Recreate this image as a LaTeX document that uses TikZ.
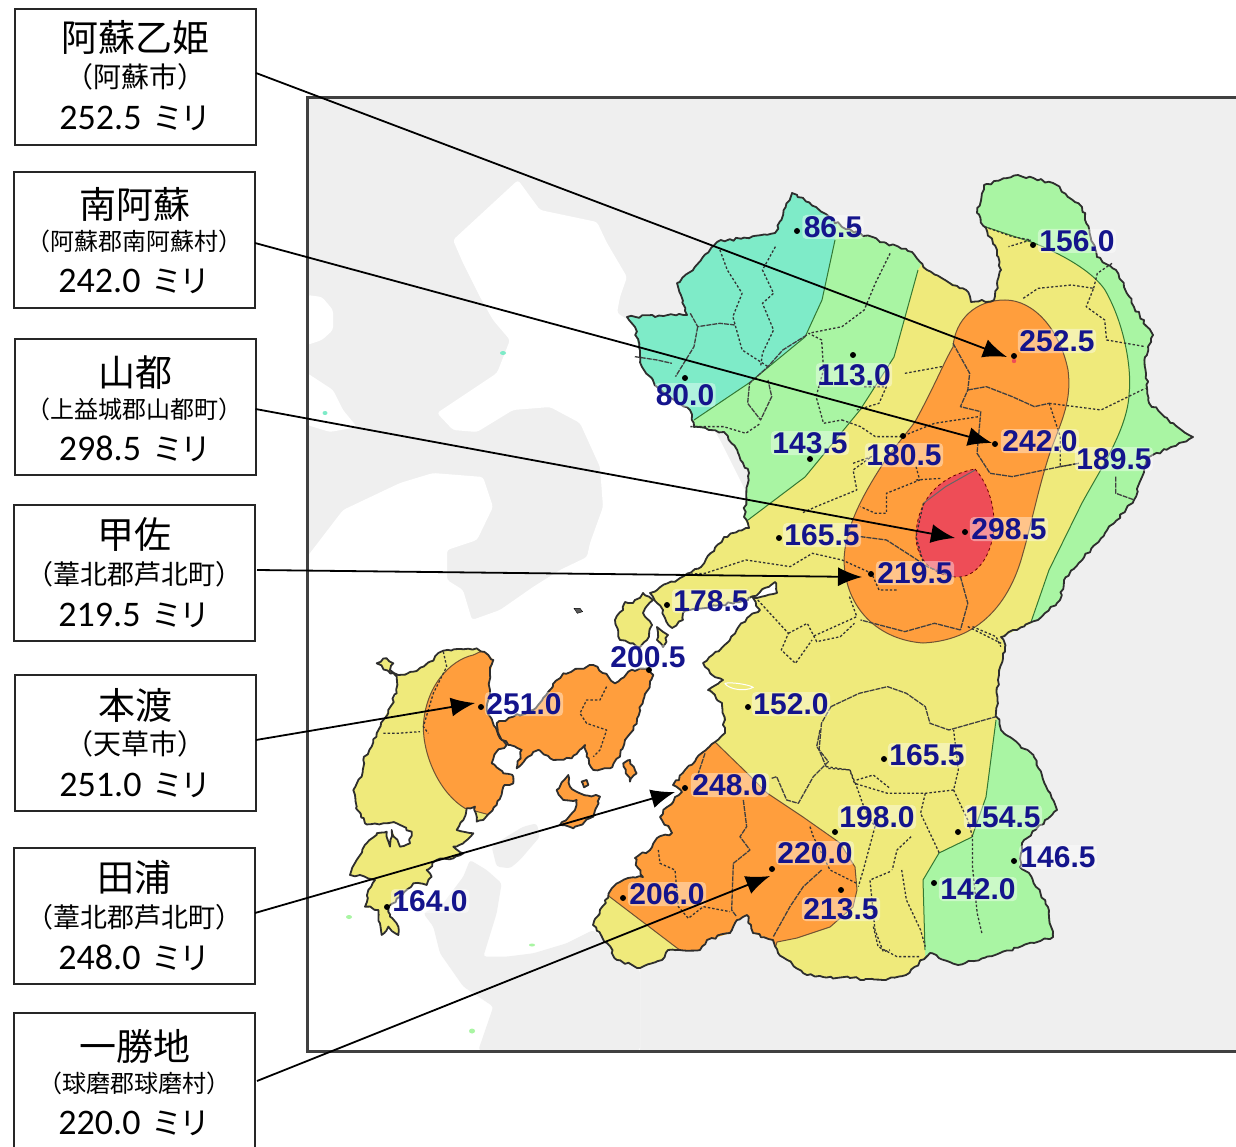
\documentclass[tikz,border=0pt]{standalone}
\usepackage{fontspec}
\usetikzlibrary{arrows.meta,decorations.pathmorphing}
\setmainfont{Carlito}
\newfontfamily\cjk{Noto Sans CJK JP}
\newfontfamily\maplabel{Liberation Sans}[BoldFont={Liberation Sans Bold}]
\definecolor{teal1}{HTML}{7EEBC8}
\definecolor{green1}{HTML}{A9F5A3}
\definecolor{yellow1}{HTML}{EFEA7B}
\definecolor{orange1}{HTML}{FF9E3D}
\definecolor{red1}{HTML}{EE4D57}
\definecolor{gray1}{HTML}{EFEFEF}
\definecolor{blue1}{HTML}{14148C}
\definecolor{coastc}{HTML}{2E2E2E}
\newcommand{\boxlines}[5]{\vbox to 136pt{\offinterlineskip\hsize=241pt\parindent=0pt
  \vskip #5pt\hbox to 241pt{\hss\smash{\cjk\fontsize{37}{37}\selectfont #1}\hss}%
  \vskip \dimexpr 79pt-#5pt\relax\hbox to 241pt{\hss\smash{\cjk\fontsize{#4}{#4}\selectfont #2}\hss}%
  \vskip 42pt\hbox to 241pt{\hss\smash{\fontsize{36}{36}\selectfont #3\hskip 11pt{\cjk\fontsize{31}{31}\selectfont ミ\kern-3pt リ}}\hss}\vfill}}
\tikzset{
  infobox/.style={draw=black!85,line width=2pt,fill=white,inner sep=0pt,outer sep=0pt},
  z1/.style={shift={(620,170)},xscale=0.37,yscale=0.3333},
  z2/.style={shift={(340,580)},xscale=0.472,yscale=0.3333},
  z5/.style={shift={(300,560)},scale=0.3333},
  zb/.style={shift={(590,730)},scale=0.3333},
  muni/.style={draw=black!80,line width=1.3pt,dash pattern=on 2.4pt off 2pt,line join=round},
  muniS/.style={draw=black!75,line width=1.3pt,line join=round,dash pattern=on 5pt off 1pt},
  contourl/.style={draw=black!55!green!60!gray,line width=1pt},
  coast/.style={draw=coastc,line width=1.8pt,line join=round,decorate,decoration={random steps,segment length=4pt,amplitude=1.4pt}},
  lead/.style={draw=black,line width=1.8pt,-{Latex[length=24pt,width=19pt]}},
  valtext/.style={text=blue1,font=\maplabel\bfseries\fontsize{30}{30}\selectfont,inner xsep=1.5pt,inner ysep=1.5pt,text height=21pt,text depth=0pt,fill=white,fill opacity=0.4,text opacity=1,rounded corners=4pt},
  stn/.style={circle,fill=black,inner sep=0pt,minimum size=6pt},
}
\def\mainland{(627,317) -- (687,315) -- (677,283) -- (690,272) -- (717,242) -- (775,233) -- (792,193) -- (816,207) -- (842,227) -- (886,243) -- (912,252) -- (927,270) -- (945,280) -- (966,290) -- (971,302) -- (994,300) -- (1001,270) -- (997,250) -- (977,213) -- (984,185) -- (1018,175) -- (1053,183) -- (1082,207) -- (1097,257) -- (1116,270) -- (1134,307) -- (1153,335) -- (1145,357) -- (1149,403) -- (1175,425) -- (1193,437) -- (1171,447) -- (1149,457) -- (1142,477) -- (1134,500) -- (1105,533) -- (1064,580) -- (1060,600) -- (1038,620) -- (1001,637) -- (1005,647) -- (998,680) -- (996,713) -- (1001,730) -- (1034,757) -- (1057,810) -- (1022,843) -- (1020,867) -- (1029,873) -- (1048,907) -- (1053,937) -- (1000,953) -- (958,965) -- (930,953) -- (906,975) -- (883,980) -- (850,978) -- (823,977) -- (803,973) -- (778,953) -- (773,940) -- (753,933) -- (747,915) -- (737,920) -- (730,933) -- (707,940) -- (700,950) -- (668,950) -- (662,960) -- (640,968) -- (617,960) -- (607,943) -- (593,925) -- (602,907) -- (613,887) -- (628,878) -- (643,877) -- (638,868) -- (635,858) -- (650,850) -- (657,838) -- (672,833) -- (660,817) -- (667,807) -- (682,792) -- (673,785) -- (703,752) -- (715,742) -- (725,733) -- (722,703) -- (708,690) -- (723,680) -- (710,673) -- (703,663) -- (727,643) -- (747,618) -- (760,610) -- (753,598) -- (777,593) -- (775,582) -- (760,592) -- (748,600) -- (720,605) -- (690,610) -- (683,613) -- (683,620) -- (672,628) -- (665,618) -- (663,610) -- (657,603) -- (650,593) -- (680,578) -- (701,567) -- (724,537) -- (749,528) -- (744,517) -- (749,473) -- (738,453) -- (724,432) -- (694,427) -- (690,410) -- (657,387) -- (642,367) -- (635,327) -- cycle}
\def\oyano{(643,593) -- (653,600) -- (643,613) -- (652,625) -- (647,640) -- (640,647) -- (620,640) -- (615,620) -- (623,610) -- (625,602) -- (633,603) -- cycle}
\def\oyanob{(657,627) -- (668,635) -- (663,647) -- (657,640) -- cycle}
\def\shimo{(230,310) -- (260,295) -- (280,310) -- (270,330) -- (295,345) -- (340,335) -- (390,305) -- (430,272) -- (530,265) -- (565,285) -- (580,300) -- (570,340) -- (570,400) -- (560,450) -- (590,510) -- (600,535) -- (620,555) -- (590,575) -- (575,610) -- (610,640) -- (640,650) -- (640,670) -- (610,680) -- (590,735) -- (550,780) -- (530,785) -- (525,740) -- (500,745) -- (490,780) -- (470,810) -- (520,820) -- (490,850) -- (460,860) -- (490,880) -- (460,895) -- (410,900) -- (380,930) -- (395,950) -- (380,975) -- (340,970) -- (300,1010) -- (265,1040) -- (270,1070) -- (295,1100) -- (295,1125) -- (265,1100) -- (245,1125) -- (240,1090) -- (235,1050) -- (195,1040) -- (205,990) -- (225,960) -- (180,945) -- (150,945) -- (170,900) -- (200,850) -- (230,820) -- (260,815) -- (270,860) -- (275,810) -- (300,860) -- (330,850) -- (335,815) -- (290,790) -- (250,790) -- (195,790) -- (170,740) -- (160,690) -- (185,650) -- (190,600) -- (215,560) -- (230,520) -- (265,450) -- (290,400) -- (290,350) -- cycle}
\def\kami{(590,490) -- (640,470) -- (700,450) -- (750,390) -- (790,340) -- (880,315) -- (925,350) -- (945,370) -- (985,335) -- (1040,325) -- (1060,345) -- (1030,420) -- (1000,510) -- (975,540) -- (960,590) -- (930,625) -- (880,630) -- (860,590) -- (855,555) -- (815,595) -- (760,600) -- (715,570) -- (685,590) -- (650,625) -- (665,570) -- (625,555) -- (600,530) -- cycle}
\begin{document}
\begin{tikzpicture}[x=1pt,y=-1pt]
\useasboundingbox (0,0) rectangle (1236,1147);
\fill[white] (0,0) rectangle (1236,1147);
% background
\fill[gray1] (307,98) rectangle (1240,1051);
\fill[white,rounded corners=3pt] (518,180) -- (540,210) -- (597,222) -- (607,243) -- (627,277) -- (620,297) -- (617,313) -- (660,340) -- (720,440) -- (760,520) -- (760,560) -- (790,590) -- (770,640) -- (740,740) -- (700,800) -- (680,860) -- (640,900) -- (640,960) -- (640,1052) -- (307,1052) -- (307,557) -- (343,510) -- (400,483) -- (433,473) -- (483,477) -- (493,507) -- (477,540) -- (447,550) -- (447,580) -- (463,590) -- (472,620) -- (500,610) -- (533,587) -- (560,570) -- (587,557) -- (590,543) -- (603,507) -- (600,467) -- (580,423) -- (550,407) -- (513,410) -- (477,432) -- (453,430) -- (437,413) -- (497,373) -- (510,340) -- (493,320) -- (480,297) -- (463,263) -- (453,240) -- cycle;
\fill[white,rounded corners=3pt] (307,295) -- (322,297) -- (333,310) -- (333,330) -- (322,340) -- (307,345) -- cycle;
\fill[white,rounded corners=3pt] (307,373) -- (333,390) -- (343,410) -- (357,427) -- (330,432) -- (307,425) -- cycle;
\begin{scope}[z5]
\fill[gray1,rounded corners=3pt] (575,860) -- (620,830) -- (670,800) -- (710,790) -- (720,830) -- (660,900) -- (630,925) -- (590,920) -- cycle;
\fill[gray1,rounded corners=3pt] (370,1060) -- (430,1030) -- (490,950) -- (510,900) -- (560,930) -- (605,970) -- (590,1060) -- (550,1190) -- (620,1190) -- (700,1180) -- (800,1150) -- (880,1110) -- (1020,1230) -- (1020,1471) -- (535,1471) -- (580,1340) -- (490,1280) -- (420,1180) -- (400,1100) -- cycle;
\end{scope}
% specks
\fill[teal1] (503,353) ellipse (3pt and 2pt) (325,413) ellipse (2.5pt and 2pt);
\fill[green1] (349,917) ellipse (3pt and 2pt) (472,1031) ellipse (3pt and 2.5pt) (532,945) ellipse (3pt and 1.5pt);
% mainland zones
\fill[green1] \mainland;
\begin{scope}
\clip \mainland;
\fill[yellow1] (986,227) -- (1034,243) .. controls (1071,258) and (1095,275) .. (1105,290) .. controls (1125,325) and (1132,370) .. (1129,395) .. controls (1127,430) and (1100,470) .. (1082,503) -- (1049,570) -- (1031,622) -- (1040,660) -- (1020,680) -- (996,720) -- (986,797) -- (972,837) -- (939,853) -- (923,880) -- (925,950) -- (925,1000) -- (560,1000) -- (560,540) -- (748,520) -- (805,477) -- (860,410) -- (894,357) -- (918,270) -- (950,220) -- cycle;
\draw[contourl] (986,227) -- (1034,243) .. controls (1071,258) and (1095,275) .. (1105,290) .. controls (1125,325) and (1132,370) .. (1129,395) .. controls (1127,430) and (1100,470) .. (1082,503) -- (1049,570) -- (1031,622);
\draw[contourl] (996,720) -- (986,797) -- (972,837) -- (939,853) -- (923,880) -- (925,950);
\draw[contourl] (748,520) -- (805,477) -- (860,410) -- (894,357) -- (918,270);
\fill[teal1] (835,240) -- (822,300) -- (805,337) -- (749,383) -- (694,420) -- (620,420) -- (620,180) -- (840,180) -- cycle;
\draw[contourl] (835,240) -- (822,300) -- (805,337) -- (749,383) -- (694,420);
% main orange
\filldraw[fill=orange1,draw=black!60!orange!60!gray,line width=1pt] (1005,300) .. controls (1034,300) and (1060,330) .. (1068,370) .. controls (1072,400) and (1062,420) .. (1052,447) .. controls (1040,480) and (1030,530) .. (1023,553) .. controls (1012,595) and (985,640) .. (923,643) .. controls (880,640) and (845,610) .. (844,560) .. controls (845,530) and (860,500) .. (879,470) .. controls (895,445) and (910,430) .. (916,420) .. controls (935,385) and (945,360) .. (953,347) .. controls (955,320) and (975,300) .. (1005,300) -- cycle;
\filldraw[fill=red1,draw=black!60!red,dashed,line width=.8pt] (975,469) .. controls (985,480) and (994,500) .. (994,523) .. controls (994,550) and (980,575) .. (960,577) .. controls (935,578) and (916,560) .. (916,537) .. controls (916,510) and (930,478) .. (975,469) -- cycle;
% south-west orange
\filldraw[fill=orange1,draw=black!60!orange!60!gray,line width=1pt] (715,742) -- (747,773) -- (767,793) -- (803,817) -- (840,843) -- (855,867) -- (857,890) -- (853,907) -- (830,927) -- (797,938) -- (777,942) -- (760,1000) -- (677,948) -- (610,897) -- (560,850) -- (650,740) -- cycle;
\end{scope}
\begin{scope}[z1]
\draw[muni] (270,240) -- (290,300) -- (330,370) -- (305,440) -- (320,500) -- (330,540) -- (400,590);
\draw[muni] (420,230) -- (385,300) -- (415,370) -- (385,400) -- (415,480) -- (385,550) -- (380,590);
\draw[muniS] (190,430) -- (210,470) -- (270,460) -- (310,465);
\draw[muniS] (210,470) -- (200,530) -- (150,620);
\draw[muni] (730,250) -- (690,340) -- (660,420) -- (600,470) -- (510,490) -- (545,510) -- (550,600) -- (530,680) -- (550,760) -- (600,750);
\draw[muniS] (505,495) -- (440,540) -- (400,590) -- (350,640) -- (345,700) -- (380,750) -- (410,680) -- (400,630);
\draw[muni] (190,770) -- (280,770) -- (340,790) -- (380,760);
\draw[muniS] (40,560) -- (100,570) -- (140,580);
\draw[muni] (600,750) -- (650,770) -- (690,800) -- (760,800) -- (850,760) -- (970,740);
\draw[muni] (660,650) -- (720,650) -- (700,700) -- (640,720);
\draw[muni] (770,610) -- (820,600) -- (870,590);
\draw[muniS] (900,520) -- (945,610) -- (940,660) -- (920,710) -- (975,725) -- (965,850) -- (1000,910) -- (1060,920) -- (1190,890) -- (1240,880);
\draw[muniS] (940,660) -- (990,650) -- (1060,680) -- (1120,710) -- (1160,700);
\draw[muni] (1160,700) -- (1300,720) -- (1420,655);
\draw[muni] (1160,700) -- (1190,800) -- (1190,890);
\draw[muni] (985,170) -- (1060,200) -- (1110,210) -- (1050,230);
\draw[muni] (1090,385) -- (1130,355) -- (1220,345) -- (1280,355) -- (1260,410) -- (1310,450) -- (1315,510) -- (1420,530);
\draw[muni] (1280,355) -- (1290,310) -- (1330,280);
\draw[muni] (630,880) -- (680,860) -- (630,900) -- (640,960) -- (530,1010) -- (490,1030);
\draw[muni] (800,890) -- (810,930) -- (720,970) -- (720,1030) -- (690,1030) -- (650,1010);
\draw[muni] (800,930) -- (870,925);
\draw[black!60,line width=1pt] (820,1000) -- (880,950) -- (960,900);
\draw[muni] (820,1000) -- (800,1100) -- (820,1180);
\draw[muniS] (650,1100) -- (720,1110) -- (790,1160) -- (830,1190) -- (900,1220);
\draw[muni] (155,1215) -- (230,1210) -- (340,1170) -- (460,1190) -- (520,1150) -- (600,1170) -- (640,1190) -- (680,1210) -- (700,1260) -- (750,1260);
\draw[muniS] (920,1220) -- (940,1300) -- (920,1380);
\draw[muni] (620,1280) -- (640,1340) -- (520,1400);
\draw[muniS] (920,1380) -- (850,1360) -- (770,1385) -- (650,1350);
\draw[muni] (940,1370) -- (1030,1420);
\draw[muniS] (1340,920) -- (1340,970) -- (1390,990);
\draw[muni] (1190,890) -- (1240,880);
\end{scope}
\begin{scope}[z2]
\draw[muni] (885,60) -- (950,160) -- (935,210) -- (965,250) -- (1000,180);
\draw[muni] (950,160) -- (990,130) -- (1010,185) -- (1060,170) -- (1090,130);
\draw[muni] (1340,140) -- (1390,170) -- (1400,200);
\draw[muniS] (1040,380) -- (1100,340) -- (1160,320) -- (1200,340) -- (1240,380) -- (1250,430) -- (1290,450) -- (1390,410);
\draw[muniS] (1040,380) -- (1020,430) -- (1015,510) -- (1030,560);
\draw[muni] (1030,560) -- (1080,570) -- (1090,610) -- (1160,640) -- (1240,640) -- (1300,630) -- (1310,570) -- (1300,450);
\draw[muni] (1240,640) -- (1230,700) -- (1270,820);
\draw[muni] (1130,1040) -- (1140,1100) -- (1180,1130) -- (1230,1130);
\draw[muni] (1190,870) -- (1200,960) -- (1230,1050) -- (1240,1100);
\draw[muni] (1210,770) -- (1180,810) -- (1170,870);
\draw[muni] (1300,630) -- (1330,720) -- (1340,770) -- (1340,860) -- (1350,1000) -- (1360,1060);
\draw[white,line width=1pt] (815,310) .. controls (830,305) and (870,315) .. (875,322) .. controls (860,335) and (825,330) .. (815,310);
\end{scope}
\begin{scope}[zb]
\draw[muniS] (460,210) -- (470,290) -- (450,320) -- (480,360) -- (430,400) -- (425,540) -- (440,560);
\draw[muniS] (345,70) -- (325,130);
\draw[muni] (205,360) -- (210,400) -- (255,420) -- (265,530) -- (295,565) -- (340,530) -- (420,545);
\draw[muniS] (695,420) -- (640,470) -- (600,530) -- (550,620);
\draw[muni] (660,290) -- (670,320) -- (720,420) -- (780,450) -- (800,460);
\draw[muniS] (545,145) -- (560,140) -- (590,210) -- (625,220) -- (670,140) -- (715,95) -- (680,50) -- (690,0);
\draw[muni] (715,115) -- (780,120) -- (800,170) -- (825,240) -- (855,290) -- (820,420) -- (805,470);
\draw[muni] (800,150) -- (850,135) -- (900,175);
\draw[muni] (900,425) -- (840,450) -- (855,600) -- (880,665) -- (900,660);
\end{scope}
\draw[coast] \mainland;
% Oyano
\filldraw[fill=yellow1,coast] \oyano;
\filldraw[fill=yellow1,coast] \oyanob;
% Amakusa
\begin{scope}[z5]
\fill[yellow1] \shimo;
\begin{scope}
\clip \shimo;
\filldraw[fill=orange1,draw=black!60!orange!60!gray,line width=1pt] (520,285) .. controls (450,300) and (375,380) .. (370,500) .. controls (370,590) and (420,700) .. (495,745) -- (700,800) -- (700,200) -- cycle;
\end{scope}
\draw[muni] (430,275) -- (440,320) -- (400,400) -- (370,500) -- (385,520);
\draw[muni] (250,520) -- (290,520) -- (360,515);
\draw[coast] \shimo;
\filldraw[fill=orange1,coast] \kami;
\draw[muni] (920,380) -- (900,420) -- (860,420) -- (840,460) -- (860,490) -- (920,510) -- (900,570) -- (880,590);
\filldraw[fill=orange1,coast] (970,610) -- (990,600) -- (1010,640) -- (990,665) -- cycle;
\filldraw[fill=orange1,coast] (770,690) -- (805,645) -- (810,680) -- (840,700) -- (900,710) -- (880,770) -- (820,805) -- (780,795) -- (825,750) -- (830,720) -- (790,720) -- cycle;
\filldraw[fill=orange1,coast] (845,665) -- (860,660) -- (865,675) -- (852,682) -- cycle;
\filldraw[fill=black!65] (822,145) -- (840,145) -- (848,155) -- (832,160) -- cycle;
\end{scope}
% frame
\draw[black!75,line width=3pt] (1240,98) -- (307,98) -- (307,1051) -- (1240,1051);
% info boxes
\node[infobox] (b1) at (135.5,77) {\boxlines{阿蘇乙姫}{（阿蘇市）}{252.5}{28}{43}};
\node[infobox] (b2) at (134.5,240) {\boxlines{南阿蘇}{（阿蘇郡南阿蘇村）}{242.0}{24}{47}};
\node[infobox] (b3) at (135,407) {\boxlines{山都}{（上益城郡山都町）}{298.5}{24}{47}};
\node[infobox] (b4) at (134.5,573) {\boxlines{甲佐}{（葦北郡芦北町）}{219.5}{27}{43}};
\node[infobox] (b5) at (135.5,743) {\boxlines{本渡}{（天草市）}{251.0}{28}{44}};
\node[infobox] (b6) at (134.5,916) {\boxlines{田浦}{（葦北郡芦北町）}{248.0}{27}{43}};
\node[infobox] (b7) at (134.5,1081) {\boxlines{一勝地}{（球磨郡球磨村）}{220.0}{24}{47}};
% values
\foreach \txt/\px/\py in {86.5/833/227,156.0/1077/241,252.5/1057/341,113.0/854/375,80.0/685/395,242.0/1040/441,143.5/810/443,180.5/904/455,189.5/1114/459,298.5/1009/529,165.5/822/535,219.5/915/573,178.5/711/601,200.5/648/657,251.0/524/704,152.0/791/704,165.5/927/755,248.0/730/785,198.0/877/817,154.5/1003/817,220.0/815/853,146.5/1058/857,142.0/978/889,206.0/667/894,213.5/841/909,164.0/430/901}{\node[valtext] at (\px,\py) {\txt};}
% stations
\foreach \nm/\px/\py in {a/797/231,b/1033/245,c/1014/356,d/853/355,e/685/378,f/995/444,g/810/459,h/903/436,i/965/532,j/779/538,k/871/574,l/667/605,m/649/670,n/481/707,o/748/707,p/884/759,q/685/788,r/835/832,s/958/832,t/772/869,u/1014/861,v/934/883,w/623/898,x/841/890,y/387/907}{\node[stn] (s\nm) at (\px,\py) {};}
\fill[red1] (1014,361) circle (2.2pt);
% leaders
\coordinate (t1) at (1007,357);
\coordinate (t2) at (992,443);
\coordinate (t3) at (955,538);
\coordinate (t4) at (862,577);
\coordinate (t5) at (475,703);
\coordinate (t6) at (675,792);
\coordinate (t7) at (770,876);
\draw[lead] ([yshift=4pt]b1.east) -- (t1);
\draw[lead] ([yshift=-3pt]b2.east) -- (t2);
\draw[lead] ([yshift=-2pt]b3.east) -- (t3);
\draw[lead] ([yshift=3pt,xshift=2pt]b4.east) -- (t4);
\draw[lead] ([yshift=3pt]b5.east) -- (t5);
\draw[lead] ([yshift=3pt]b6.east) -- (t6);
\draw[lead] ([xshift=2pt]b7.east) -- (t7);
\end{tikzpicture}
\end{document}
